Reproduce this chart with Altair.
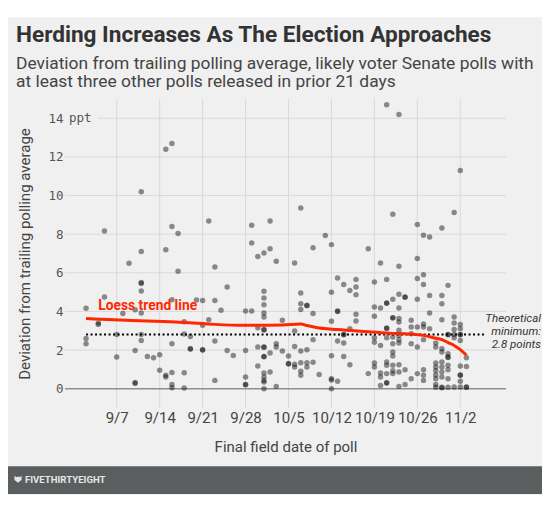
import altair as alt
import pandas as pd

# ---------------- data ----------------
# final field day of poll, counted as days after Aug 31 (9/7 -> 7, 10/5 -> 35, 11/2 -> 63)
poll_days = [2, 4, 5, 7, 8, 9, 10, 11, 12, 13, 14, 15, 16, 17, 18, 19, 20, 21, 22, 23,
             24, 25, 26, 28, 29, 30, 31, 32, 33, 34, 35, 36, 37, 38, 39, 40, 41, 42, 43,
             44, 45, 46, 48, 49, 50, 51, 52, 53, 54, 55, 56, 57, 58, 59, 60, 61, 62, 63, 64]
# deviation from trailing polling average (ppt) for the polls of each day above
deviations = [
    [4.16, 2.6, 2.33],
    [3.4, 3.33],
    [8.17, 4.75],
    [2.81, 1.64],
    [3.89],
    [6.5],
    [4.09, 1.98, 0.32, 0.27],
    [10.2, 7.1, 5.5, 5.45, 5.06, 3.92, 2.81, 2.5],
    [1.67],
    [1.6],
    [1.76, 0.95],
    [12.4, 7.2, 0.7, 0.6],
    [12.7, 8.4, 4.6, 2.33, 0.84, 0.22, 0.05],
    [8.03, 6.08],
    [3.47, 2.83, 0.82, 0.03],
    [2.7, 2.07, 2.05],
    [4.59],
    [4.57, 3.28, 2.02, 2.0],
    [8.68, 3.57],
    [6.3, 4.57, 2.47, 0.43],
    [4.06],
    [5.26, 1.98],
    [1.72],
    [4.02, 1.98, 0.6, 0.22, 0.2],
    [8.46, 7.55, 4.02],
    [6.85, 3.16, 2.16, 1.17],
    [7.03, 5.04, 4.7, 4.35, 3.92, 3.71, 3.06, 3.04, 2.16, 2.14, 1.67, 1.65, 0.81, 0.6, 0.43, 0.34, 0.0],
    [8.68, 7.25, 1.85, 0.86],
    [6.6, 2.33, 2.16, 0.12],
    [3.54, 1.95],
    [1.69, 1.3, 1.28],
    [6.51, 2.99, 2.19, 1.26, 1.12],
    [9.36, 4.95, 4.4, 4.1, 1.95, 1.34, 0.9, 0.69],
    [4.32, 4.3, 2.02, 1.34, 1.12],
    [7.3, 3.89, 2.54, 1.37],
    [0.73],
    [7.93],
    [7.46, 5.0, 3.49, 1.71, 0.52, 0.45, 0.0],
    [5.73, 4.02, 4.0, 2.47, 0.38],
    [5.39, 2.81, 2.79, 2.36, 1.67],
    [5.09, 3.11, 1.24],
    [5.66, 5.26, 4.87, 3.85, 3.5],
    [7.25, 0.78],
    [5.52, 4.23, 3.75, 2.64, 2.41, 1.33, 1.12],
    [6.51, 4.18, 2.24, 0.81, 0.6, 0.17],
    [14.7, 5.66, 4.44, 4.42, 3.14, 3.12, 2.64, 1.38, 1.21, 0.78, 0.31, 0.29],
    [9.03, 4.63, 3.68, 3.66, 2.67, 2.33, 1.9, 1.69, 1.21, 0.93, 0.78],
    [14.2, 6.34, 4.89, 4.18, 3.63, 3.45, 3.02, 2.76, 2.54, 2.36, 1.24, 0.86, 0.12],
    [4.75, 4.73, 0.98, 0.22],
    [3.54, 3.2, 2.85, 2.33, 0.52],
    [8.5, 6.74, 5.7, 4.63, 3.2, 2.16, 0.78],
    [7.94, 5.9, 5.39, 3.35, 3.2, 2.54, 0.98, 0.69, 0.43],
    [7.86, 4.83, 3.92, 3.11],
    [2.36, 2.16, 1.33, 1.12, 0.93, 0.71, 0.52, 0.22, 0.07],
    [8.32, 4.83, 4.4, 3.57, 2.07, 1.9, 1.38, 1.12, 0.86, 0.6, 0.07, 0.05],
    [5.35, 2.81, 2.79, 1.81, 1.64, 1.62, 1.21, 0.98, 0.52, 0.07],
    [9.12, 3.71, 3.4, 3.06, 2.81, 2.64, 0.09],
    [11.3, 3.33, 3.11, 2.81, 2.79, 2.5, 1.17, 0.71, 0.69, 0.38, 0.09],
    [1.6, 1.15, 0.09, 0.07],
]

# loess trend line
trend_days = [2, 8.6, 16.5, 21, 23, 28, 34, 37, 38, 39.5, 43, 48, 52, 54, 57, 58.6, 60, 61, 62, 63, 64]
trend_devs = [3.63, 3.54, 3.45, 3.37, 3.33, 3.28, 3.30, 3.35, 3.27, 3.17, 3.06, 2.95, 2.86, 2.84,
              2.76, 2.64, 2.54, 2.39, 2.24, 2.02, 1.73]

theoretical_min = 2.8
min_line_days = [2, 67.1]

tick_days = [7, 14, 21, 28, 35, 42, 49, 56, 63]
tick_labels = ["9/7", "9/14", "9/21", "9/28", "10/5", "10/12", "10/19", "10/26", "11/2"]
y_ticks = [0, 2, 4, 6, 8, 10, 12, 14]
grid_values = [2, 4, 6, 8, 10, 12]

title_text = "Herding Increases As The Election Approaches"
subtitle_lines = ["Deviation from trailing polling average, likely voter Senate polls with",
                  "at least three other polls released in prior 21 days"]

# ---------------- build ----------------
rows = []
for d, devs in zip(poll_days, deviations):
    for v in devs:
        rows.append({"day": d, "dev": v})
polls = pd.DataFrame(rows)
trend = pd.DataFrame({"day": trend_days, "dev": trend_devs})
grid_df = pd.DataFrame({"v": grid_values})
vgrid_df = pd.DataFrame({"day": tick_days})
one = pd.DataFrame({"k": [0]})

label_expr = ""
for d, lab in zip(tick_days, tick_labels):
    label_expr += f"datum.value == {d} ? '{lab}' : "
label_expr += "''"

W, H = 441, 309
FONT = "Roboto"
GRID = "#d9d9d9"
x_scale = alt.Scale(domain=[-1.43, 70.45], nice=False, zero=False)
y_scale = alt.Scale(domain=[-1, 15], nice=False, zero=False)

x_axis = alt.Axis(values=tick_days, labelExpr=label_expr, title="Final field date of poll",
                  grid=False, domain=False, ticks=False,
                  labelFont=FONT, labelFontSize=15, labelColor="#444", labelPadding=2,
                  labelOverlap=False, labelFlush=False,
                  titleFont=FONT, titleFontSize=15, titleFontWeight="normal",
                  titleColor="#444", titlePadding=14)
y_axis = alt.Axis(values=y_ticks, grid=False, domain=False, ticks=False,
                  labelFont="DejaVu Sans Mono", labelFontSize=12.5, labelColor="#555",
                  labelPadding=2, labelOverlap=False, labelFlush=False,
                  title="Deviation from trailing polling average",
                  titleFont=FONT, titleFontSize=15, titleFontWeight="normal",
                  titleColor="#444", titlePadding=15)

top_white = alt.Chart(one).mark_rect(color="white").encode(
    x=alt.value(-60), x2=alt.value(W + 40), y=alt.value(-95), y2=alt.value(-81.8))
footer = alt.Chart(one).mark_rect(color="#5b5e5f").encode(
    x=alt.value(-60), x2=alt.value(W + 40), y=alt.value(367.2), y2=alt.value(395.2))
bottom_white = alt.Chart(one).mark_rect(color="white").encode(
    x=alt.value(-60), x2=alt.value(W + 40), y=alt.value(395.2), y2=alt.value(410))

vgrid = alt.Chart(vgrid_df).mark_rule(color=GRID, strokeWidth=1).encode(
    x=alt.X("day:Q", scale=x_scale, axis=x_axis), y=alt.value(0), y2=alt.value(H))
grid = alt.Chart(grid_df).mark_rule(color=GRID, strokeWidth=1).encode(
    y=alt.Y("v:Q", scale=y_scale, axis=y_axis), x=alt.value(0), x2=alt.value(W))
grid14 = alt.Chart(one).mark_rule(color=GRID, strokeWidth=1).encode(
    y=alt.YDatum(14, scale=y_scale, axis=y_axis), x=alt.value(33), x2=alt.value(W))
zero_line = alt.Chart(one).mark_rule(color="#8f8f8f", strokeWidth=1.5).encode(
    y=alt.YDatum(0, scale=y_scale, axis=y_axis), x=alt.value(0), x2=alt.value(W))

min_line = alt.Chart(one).mark_rule(color="black", strokeWidth=2, strokeDash=[2, 2.5]).encode(
    x=alt.XDatum(min_line_days[0], scale=x_scale, axis=x_axis),
    x2=alt.datum(min_line_days[1]),
    y=alt.YDatum(theoretical_min, scale=y_scale, axis=y_axis))

points = alt.Chart(polls).mark_circle(size=30, color="black", opacity=0.43).encode(
    x=alt.X("day:Q", scale=x_scale, axis=x_axis),
    y=alt.Y("dev:Q", scale=y_scale, axis=y_axis))

loess = alt.Chart(trend).mark_line(color="#ff2700", strokeWidth=3, interpolate="monotone").encode(
    x=alt.X("day:Q", scale=x_scale, axis=x_axis), y=alt.Y("dev:Q", scale=y_scale, axis=y_axis))

loess_label = alt.Chart(one).mark_text(
    text="Loess trend line", color="#ff2700", font=FONT, fontWeight="bold", fontSize=13.8,
    align="left", baseline="alphabetic").encode(
    x=alt.XDatum(4.0, scale=x_scale, axis=x_axis), y=alt.YDatum(4.06, scale=y_scale, axis=y_axis))

ppt_label = alt.Chart(one).mark_text(
    text="ppt", color="#555", font="DejaVu Sans Mono", fontSize=12.5,
    align="left", baseline="middle").encode(
    x=alt.value(4), y=alt.YDatum(14, scale=y_scale, axis=y_axis))

min_label = alt.Chart(one).mark_text(
    text=["Theoretical", "minimum:", "2.8 points"], lineHeight=12.7, color="#333",
    font=FONT, fontStyle="italic", fontSize=11.5, align="right", baseline="alphabetic").encode(
    x=alt.value(476), y=alt.YDatum(3.435, scale=y_scale, axis=y_axis))

title = alt.Chart(one).mark_text(
    text=title_text, color="#333", font=FONT, fontWeight="bold", fontSize=22.6,
    align="left", baseline="alphabetic").encode(x=alt.value(-49), y=alt.value(-56.8))

subtitle = alt.Chart(one).mark_text(
    text=subtitle_lines, lineHeight=18.2, color="#444", font=FONT, fontSize=17.4,
    align="left", baseline="alphabetic").encode(x=alt.value(-49), y=alt.value(-30.4))

logo_icon = alt.Chart(one).mark_point(
    shape="M-1,-1L-0.45,-0.55L0,-0.75L0.45,-0.55L1,-1L1,0.2L0,1L-1,0.2Z",
    filled=True, color="#e6e6e6", opacity=1, size=50).encode(
    x=alt.value(-47), y=alt.value(380.2))
logo_text = alt.Chart(one).mark_text(
    text="FIVETHIRTYEIGHT", color="#e6e6e6", font=FONT, fontWeight="bold", fontSize=9.6,
    align="left", baseline="middle").encode(x=alt.value(-40), y=alt.value(380.5))

chart = alt.layer(
    top_white, footer, bottom_white, vgrid, grid, grid14, zero_line, min_line, points, loess,
    loess_label, ppt_label, min_label, title, subtitle, logo_icon, logo_text
).properties(
    width=W, height=H,
    padding={"left": 57, "top": 91, "right": 36, "bottom": 91},
    autosize=alt.AutoSizeParams(type="none"),
).configure(background="#f0f0f0", font=FONT).configure_view(stroke=None)

chart.save("out.html", embed_options={"renderer": "svg", "actions": False})
